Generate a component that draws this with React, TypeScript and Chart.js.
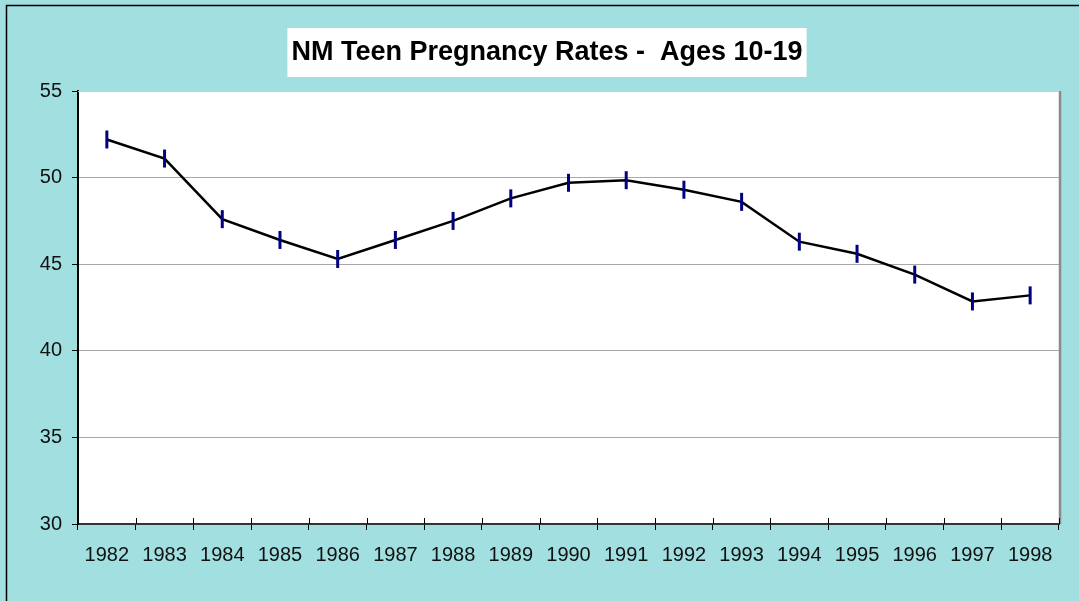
import { useEffect, useRef } from 'react';
import { Chart, registerables } from 'chart.js';

Chart.register(...registerables);

const years = ['1982', '1983', '1984', '1985', '1986', '1987', '1988', '1989', '1990', '1991', '1992', '1993', '1994', '1995', '1996', '1997', '1998'];
const rates = [52.2, 51.1, 47.6, 46.4, 45.3, 46.4, 47.5, 48.8, 49.7, 49.85, 49.3, 48.6, 46.3, 45.6, 44.4, 42.85, 43.2];
const yMin = 30;
const yMax = 55;
const yStep = 5;
const titleText = 'NM Teen Pregnancy Rates -  Ages 10-19';

const FONT = "'Liberation Sans', Arial, sans-serif";
const TEAL = '#A2DFE0';

const backgroundPlugin = {
  id: 'bgPlugin',
  beforeDraw(chart: any) {
    const { ctx, width, height, chartArea } = chart;
    ctx.save();
    ctx.fillStyle = TEAL;
    ctx.fillRect(0, 0, width, height);
    ctx.strokeStyle = '#000';
    ctx.lineWidth = 1.5;
    ctx.beginPath();
    ctx.moveTo(6.5, height + 5);
    ctx.lineTo(6.5, 5.5);
    ctx.lineTo(width + 5, 5.5);
    ctx.stroke();
    ctx.fillStyle = '#fff';
    ctx.fillRect(chartArea.left, chartArea.top, chartArea.right - chartArea.left, chartArea.bottom - chartArea.top);
    ctx.restore();
  },
  afterDraw(chart: any) {
    const { ctx, chartArea } = chart;
    ctx.save();
    ctx.strokeStyle = '#8a8a8a';
    ctx.lineWidth = 2.5;
    ctx.beginPath();
    ctx.moveTo(chartArea.right + 1, chartArea.top);
    ctx.lineTo(chartArea.right + 1, chartArea.bottom);
    ctx.stroke();
    ctx.strokeStyle = '#d0d0d0';
    ctx.lineWidth = 1;
    ctx.beginPath();
    ctx.moveTo(chartArea.left, chartArea.top + 0.5);
    ctx.lineTo(chartArea.right, chartArea.top + 0.5);
    ctx.stroke();
    const n = years.length;
    const w = (chartArea.right - chartArea.left) / n;
    ctx.strokeStyle = '#000';
    ctx.lineWidth = 1;
    ctx.beginPath();
    for (let i = 0; i <= n; i++) {
      const x = Math.round(chartArea.left + i * w) + 0.5;
      ctx.moveTo(x, chartArea.bottom);
      ctx.lineTo(x, chartArea.bottom - 6);
    }
    ctx.stroke();
    ctx.font = `bold 27px ${FONT}`;
    const tw = ctx.measureText(titleText).width;
    const cx = 547;
    const boxW = tw + 8;
    ctx.fillStyle = '#fff';
    ctx.fillRect(cx - boxW / 2, 28, boxW, 49);
    ctx.fillStyle = '#000';
    ctx.textAlign = 'center';
    ctx.textBaseline = 'middle';
    ctx.fillText(titleText, cx, 53);
    ctx.restore();
  },
};

export default function App() {
  const ref = useRef<HTMLCanvasElement | null>(null);
  useEffect(() => {
    if (!ref.current) return;
    const chart = new Chart(ref.current, {
      type: 'line',
      data: {
        labels: years,
        datasets: [
          {
            data: rates,
            borderColor: '#000',
            borderWidth: 2.5,
            pointStyle: 'line',
            pointRotation: 90,
            pointRadius: 9,
            pointBorderWidth: 3,
            pointBorderColor: '#000080',
            pointBackgroundColor: '#000080',
            tension: 0,
            fill: false,
          },
        ],
      },
      options: {
        responsive: false,
        animation: false,
        layout: { padding: { left: 0, top: 91, right: 20, bottom: 0 } },
        plugins: { legend: { display: false }, tooltip: { enabled: false }, title: { display: false } },
        scales: {
          x: {
            type: 'category',
            offset: true,
            grid: { offset: true, drawOnChartArea: false, tickLength: 6, tickColor: '#000', lineWidth: 1 },
            border: { color: '#333', width: 2 },
            ticks: { color: '#111', font: { family: FONT, size: 20 }, padding: 13, maxRotation: 0, autoSkip: false },
            afterFit: (s: any) => { s.height = 77; },
          },
          y: {
            min: yMin,
            max: yMax,
            ticks: { stepSize: yStep, color: '#111', font: { family: FONT, size: 20 }, padding: 10 },
            grid: { color: '#a8a8a8', lineWidth: 1, tickLength: 6, tickColor: '#000' },
            border: { color: '#000', width: 2 },
            afterFit: (s: any) => { s.width = 78; },
          },
        },
      },
      plugins: [backgroundPlugin],
    });
    return () => chart.destroy();
  }, []);
  return (
    <div style={{ position: 'fixed', left: 0, top: 0, width: 1079, height: 601 }}>
      <canvas ref={ref} width={1079} height={601} style={{ display: 'block' }} />
    </div>
  );
}
